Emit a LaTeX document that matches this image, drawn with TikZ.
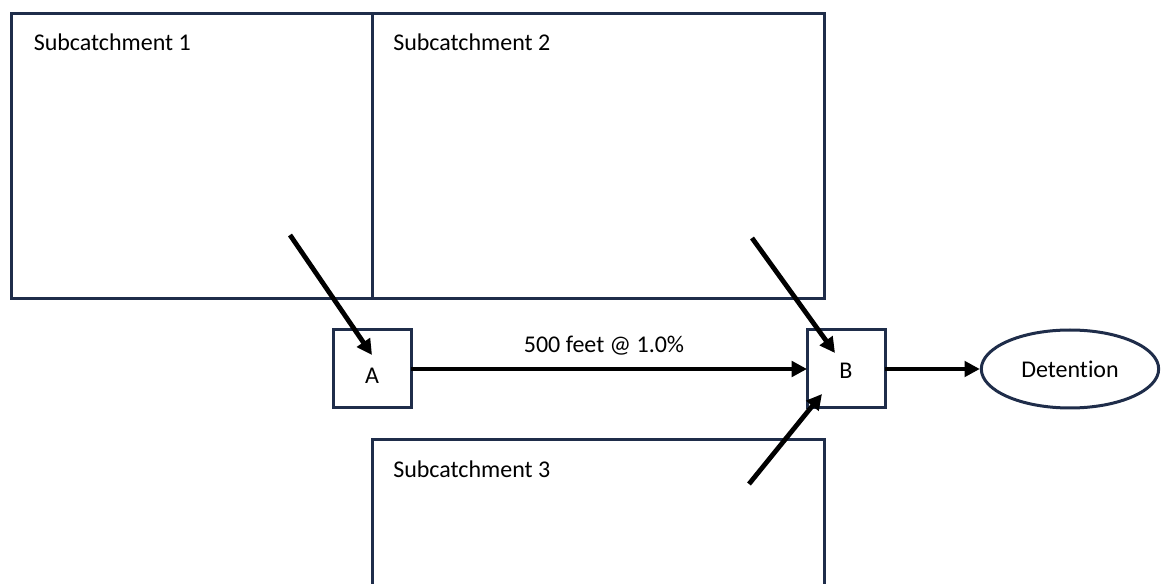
\documentclass[tikz,border=0pt]{standalone}
\usepackage{fontspec}
\setmainfont[Ligatures=NoCommon]{Carlito}
\usetikzlibrary{arrows.meta,positioning,calc,shapes.geometric}
\definecolor{navy}{HTML}{1F2D4A}

\begin{document}
\begin{tikzpicture}[
  x=0.75pt, y=-0.75pt,
  font=\fontsize{18}{22}\selectfont,
  area/.style={
    draw=navy,
    line width=2.25pt,
    anchor=north west,
    inner sep=0pt,
    outer sep=0pt,
  },
  cell/.style={
    draw=navy,
    line width=2.25pt,
    minimum width=58.5pt,
    minimum height=58.5pt,
    inner sep=0pt,
    outer sep=0pt,
  },
  tag/.style={anchor=base west, inner sep=0pt},
  arr/.style={
    -{Triangle[length=11.5pt,width=11.5pt]},
    line width=3.6pt,
  },
]
  \useasboundingbox (0,0) rectangle (1161,584);
  \clip (0,0) rectangle (1161,584);
  % Subcatchment areas (third one runs off the bottom edge)
  \node[area, minimum width=270.4pt, minimum height=213.75pt] (sub1) at (11.5,13.5) {};
  \node[area, minimum width=339pt, minimum height=213.75pt] (sub2) at (372,13.5) {};
  \node[area, minimum width=339pt, minimum height=150pt] (sub3) at (372,440) {};
  \node[tag] (sub1lab) at ($(sub1.north west)+(22,37)$) {Subcatchment 1};
  \node[tag] (sub2lab) at ($(sub2.north west)+(21,37)$) {Subcatchment 2};
  \node[tag] (sub3lab) at ($(sub3.north west)+(21,38)$) {Subcatchment 3};
  % Junctions and outlet
  \node[cell] (A) at (372,369) {};
  \node[anchor=base] (Alab) at ($(A.center)+(0,15)$) {A};
  \node[cell] (B) at (846,369) {};
  \node[anchor=base] (Blab) at ($(B.center)+(0,10)$) {B};
  \node[draw=navy, line width=2.25pt, ellipse, inner sep=0pt,
        minimum width=133pt, minimum height=58.5pt] (det) at (1070,369) {Detention};
  % Inflows from the subcatchments
  \coordinate (in1) at (290,235);
  \coordinate (in2) at (752,238);
  \coordinate (in3) at (749,484);
  \draw[arr] (in1) -- ($(A.center)+(0,-14)$);
  \draw[arr] (in2) -- ($(B.center)+(-11,-16)$);
  \draw[arr] (in3) -- ($(B.center)+(-24,25)$);
  % Routing
  \draw[arr] (A) -- node[midway, anchor=base, yshift=12pt, xshift=-3.75pt] (reach) {500 feet @ 1.0\%} (B);
  \draw[arr] (B) -- (det);
\end{tikzpicture}
\end{document}
